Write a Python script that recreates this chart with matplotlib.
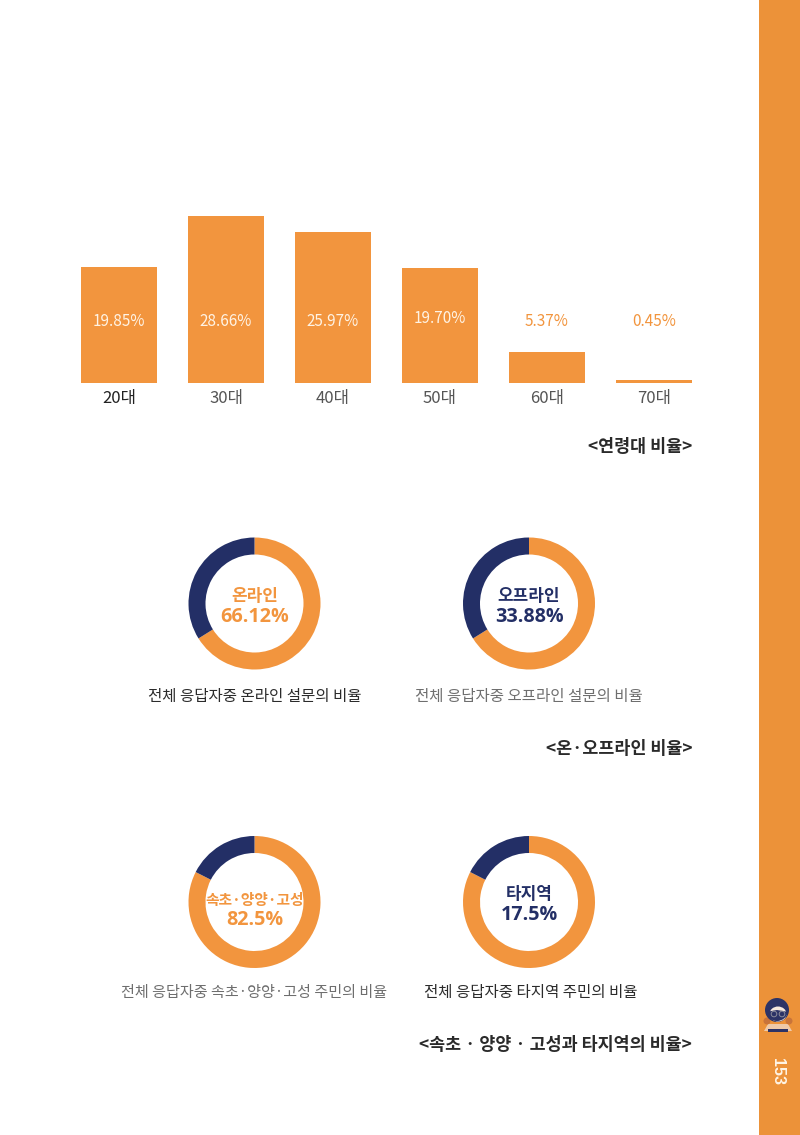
import matplotlib
matplotlib.use("Agg")
import matplotlib.pyplot as plt
from matplotlib.patches import Rectangle, Circle, Ellipse, Wedge, Polygon

plt.rcParams['font.family'] = ['Noto Sans CJK KR', 'DejaVu Sans']

# Survey figures
age_groups = ['20대', '30대', '40대', '50대', '60대', '70대']
age_shares = [19.85, 28.66, 25.97, 19.70, 5.37, 0.45]
age_labels = ['19.85%', '28.66%', '25.97%', '19.70%', '5.37%', '0.45%']
age_tick_colors = ['#222222', '#555555', '#555555', '#555555', '#555555', '#555555']

channel_titles = ['온라인', '오프라인']
channel_shares = [66.12, 33.88]
channel_captions = ['전체 응답자중 온라인 설문의 비율', '전체 응답자중 오프라인 설문의 비율']

region_titles = ['속초·양양·고성', '타지역']
region_shares = [82.5, 17.5]
region_captions = ['전체 응답자중 속초·양양·고성 주민의 비율', '전체 응답자중 타지역 주민의 비율']

ORANGE = '#F2953E'
SIDEBAR = '#EC9239'
NAVY = '#232F66'
W, H = 800, 1135

fig = plt.figure(figsize=(W / 100, H / 100), dpi=100, facecolor='white')

# Full-page layer addressed in pixels, y running downward
page = fig.add_axes([0, 0, 1, 1])
page.set_xlim(0, W)
page.set_ylim(H, 0)
page.axis('off')


def axes_px(left, top, width, height, **kw):
    return fig.add_axes([left / W, 1 - (top + height) / H, width / W, height / H], **kw)


# Age distribution bars
PX_PER_PCT = 5.83
BAR_TOP_PCT = 30
bar_ax = axes_px(65.5, 383 - BAR_TOP_PCT * PX_PER_PCT, 107.0 * 6, BAR_TOP_PCT * PX_PER_PCT)
bar_ax.patch.set_alpha(0)
positions = range(len(age_groups))
bar_ax.bar(positions, age_shares, width=0.715, color=ORANGE)
bar_ax.set_xlim(-0.5, 5.5)
bar_ax.set_ylim(0, BAR_TOP_PCT)
bar_ax.set_xticks(list(positions), age_groups, fontsize=12)
bar_ax.set_yticks([])
bar_ax.tick_params(axis='x', length=0, pad=5)
for tick, color in zip(bar_ax.get_xticklabels(), age_tick_colors):
    tick.set_color(color)
for side in bar_ax.spines.values():
    side.set_visible(False)
for i, (value, label) in enumerate(zip(age_shares, age_labels)):
    inside = value > 11
    y = 11.0 if label == '19.70%' else 10.6
    bar_ax.text(i, y, label, ha='center', va='center', fontsize=11,
                color='#FFF3E4' if inside else ORANGE)


# Ring charts
def ring(cx, cy, share, title, value_text, text_color, text_shift=0):
    radius = 66
    ax = axes_px(cx - radius, cy - radius, 2 * radius, 2 * radius)
    ax.pie([share, 100 - share], colors=[ORANGE, NAVY], startangle=90, counterclock=False,
           radius=1, wedgeprops={'width': 17 / radius, 'linewidth': 0})
    ax.set_xlim(-1, 1)
    ax.set_ylim(-1, 1)
    ax.set_aspect('equal')
    shift = text_shift / radius
    long_title = len(title) > 4
    ax.text(0, 0.12 - shift, title, ha='center', va='center',
            fontsize=10.6 if long_title else 12.2,
            fontweight='black', color=text_color)
    ax.text(0, -0.2 - shift * 0.8, value_text, ha='center', va='center', fontsize=14.2,
            fontweight='bold', color=text_color, family='Open Sans')


ring(254.5, 603.5, channel_shares[0], channel_titles[0], f'{channel_shares[0]:.2f}%', ORANGE)
ring(529, 603.5, 100 - channel_shares[1], channel_titles[1], f'{channel_shares[1]:.2f}%', NAVY)
ring(254.5, 902, region_shares[0], region_titles[0], f'{region_shares[0]:.1f}%', ORANGE, 6)
ring(529, 902, 100 - region_shares[1], region_titles[1], f'{region_shares[1]:.1f}%', NAVY)

# Captions beneath the rings
page.text(254.5, 696, channel_captions[0], ha='center', va='center', fontsize=11.2, color='#2B2B2B')
page.text(529, 696, channel_captions[1], ha='center', va='center', fontsize=11.2, color='#6E6E6E')
page.text(254.5, 993, region_captions[0], ha='center', va='center', fontsize=10.85, color='#6E6E6E')
page.text(530.5, 993, region_captions[1], ha='center', va='center', fontsize=11.2, color='#2B2B2B')

# Section headings
for text, y in [('<연령대 비율>', 446.5), ('<온·오프라인 비율>', 748.5),
                ('<속초 · 양양 · 고성과 타지역의 비율>', 1045.5)]:
    page.text(692, y, text, ha='right', va='center', fontsize=12.5, fontweight='black',
              color='#2A2A2A')

# Page-edge band with folio and small portrait
page.add_patch(Rectangle((759, 0), 41, H, facecolor=SIDEBAR, edgecolor='none'))
page.text(777, 1071, '153', rotation=270, ha='center', va='center', fontsize=11.5,
          fontweight='bold', color='#FFF4E4', family='Liberation Sans')
# Shoulders and braids
page.add_patch(Polygon([(764, 1031), (768, 1024), (788, 1024), (792, 1031)],
                       facecolor='#EFC9A8', edgecolor='none', zorder=3))
page.add_patch(Circle((767, 1021), 3.5, facecolor='#C9743A', edgecolor='none', zorder=3))
page.add_patch(Circle((789, 1021), 3.5, facecolor='#C9743A', edgecolor='none', zorder=3))
# Hair, face and fringe
page.add_patch(Circle((777, 1010), 12, facecolor='#2C3366', edgecolor='none', zorder=4))
page.add_patch(Ellipse((778, 1014), 17, 15, facecolor='#F6E9DF', edgecolor='none', zorder=5))
page.add_patch(Wedge((777, 1010), 11, 10, 170, facecolor='#2C3366', edgecolor='none', zorder=6))
# Glasses
page.add_patch(Circle((774, 1014), 2.8, facecolor='none', edgecolor='#8A8A9A', linewidth=0.7, zorder=7))
page.add_patch(Circle((782, 1014), 2.8, facecolor='none', edgecolor='#8A8A9A', linewidth=0.7, zorder=7))
# Collar
page.add_patch(Rectangle((768, 1029), 20, 2.5, facecolor='#2C3366', edgecolor='none', zorder=6))

fig.savefig('out.png', dpi=100)
